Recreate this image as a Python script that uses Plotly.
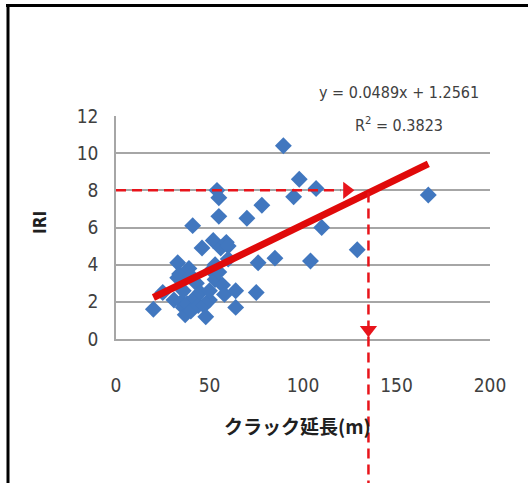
import plotly.graph_objects as go

# data
crack = [20, 25, 31, 33, 33, 34, 35, 36, 36, 37, 38, 39, 40, 40, 41, 42, 43, 44, 45, 46,
         47, 48, 50, 50, 51, 52, 53, 53, 54, 55, 55, 55, 56, 57, 58, 59, 60, 60, 64, 64,
         70, 75, 76, 78, 85, 89.5, 95, 98, 104, 107, 110, 129, 167]
iri = [1.6, 2.5, 2.1, 4.1, 3.3, 3.5, 2.0, 1.7, 2.6, 1.3, 1.9, 3.8, 1.5, 3.4, 6.1, 2.2, 3.0, 1.8, 2.5, 4.9,
       1.8, 1.2, 2.1, 2.6, 3.7, 5.3, 3.2, 4.0, 8.0, 7.6, 6.6, 3.6, 4.9, 2.9, 2.4, 5.2, 5.0, 4.3, 2.6, 1.7,
       6.5, 2.5, 4.1, 7.2, 4.35, 10.4, 7.65, 8.6, 4.2, 8.1, 6.0, 4.8, 7.75]
slope = 0.0489
intercept = 1.2561
r2 = 0.3823
target_iri = 8
target_crack = 135
x_ticks = [0, 50, 100, 150, 200]
y_ticks = [0, 2, 4, 6, 8, 10, 12]

W, H = 528, 483
ML, MR, MT, MB = 116, 38, 116, 144
pw, ph = W - ML - MR, H - MT - MB

def px(xp):
    return (xp - ML) / pw

def py(yp):
    return (H - MB - yp) / ph

FONT = "DejaVu Sans Condensed, Arial, sans-serif"
RED = "#e8141b"
GRID = "#a6a6a6"

fig = go.Figure()
fig.add_trace(go.Scatter(x=crack, y=iri, mode="markers",
                         marker=dict(symbol="diamond", size=13, color="#4177bf"),
                         showlegend=False, hoverinfo="skip"))
tx = [min(crack), max(crack)]
fig.add_trace(go.Scatter(x=tx, y=[slope * v + intercept for v in tx], mode="lines",
                         line=dict(color="#e00a0a", width=7), showlegend=False))
# arrow heads
fig.add_trace(go.Scatter(x=[target_crack - 11.5], y=[target_iri], mode="markers",
                         marker=dict(symbol="triangle-right", size=15, color=RED),
                         cliponaxis=False, showlegend=False))
fig.add_trace(go.Scatter(x=[target_crack], y=[0.5], mode="markers",
                         marker=dict(symbol="triangle-down", size=15, color=RED),
                         cliponaxis=False, showlegend=False))

shapes = [
    dict(type="line", xref="x", yref="y", x0=0, x1=target_crack - 15, y0=target_iri, y1=target_iri,
         line=dict(color=RED, width=2.5, dash="10px,6px")),
    dict(type="line", xref="x", yref="paper", x0=target_crack, x1=target_crack,
         y0=target_iri / 12 - 0.01, y1=py(H + 5),
         line=dict(color=RED, width=2.5, dash="10px,6px")),
    # frame
    dict(type="line", xref="paper", yref="paper", x0=px(6), x1=px(W + 5), y0=py(5.5), y1=py(5.5),
         line=dict(color="black", width=3)),
    dict(type="line", xref="paper", yref="paper", x0=px(8), x1=px(8), y0=py(4), y1=py(H + 5),
         line=dict(color="black", width=3)),
]

def ann(text, x, y, size, color, family=FONT, angle=0):
    return dict(text=text, xref="paper", yref="paper", x=px(x), y=py(y),
                xanchor="center", yanchor="middle", textangle=angle,
                showarrow=False, font=dict(family=family, size=size, color=color))

annotations = [
    ann("y = 0.0489x + 1.2561", 399, 93, 16, "#404040"),
    ann("R<sup>2</sup> = 0.3823", 399, 124, 16, "#404040"),
    ann("<b>クラック延長(m)</b>", 297, 425, 19, "#202020", family="Noto Sans CJK JP"),
    ann("<b>IRI</b>", 40, 223, 17, "#202020", angle=-90),
]

fig.update_layout(
    width=W, height=H, margin=dict(l=ML, r=MR, t=MT, b=MB),
    paper_bgcolor="white", plot_bgcolor="white",
    shapes=shapes, annotations=annotations,
    xaxis=dict(range=[0, 200], tickvals=x_ticks, showgrid=False, zeroline=False,
               showline=True, linecolor=GRID, linewidth=1.5, ticks="",
               ticklabelstandoff=28,
               tickfont=dict(family=FONT, size=19, color="#404040")),
    yaxis=dict(range=[0, 12], tickvals=y_ticks, showgrid=True, gridcolor=GRID, gridwidth=1.5,
               zeroline=False, showline=True, linecolor=GRID, linewidth=1.5, ticks="",
               ticklabelstandoff=12,
               tickfont=dict(family=FONT, size=19, color="#404040")),
)
fig.write_html("out.html", config={"displayModeBar": False},
               post_script="document.body.style.margin='0';")
